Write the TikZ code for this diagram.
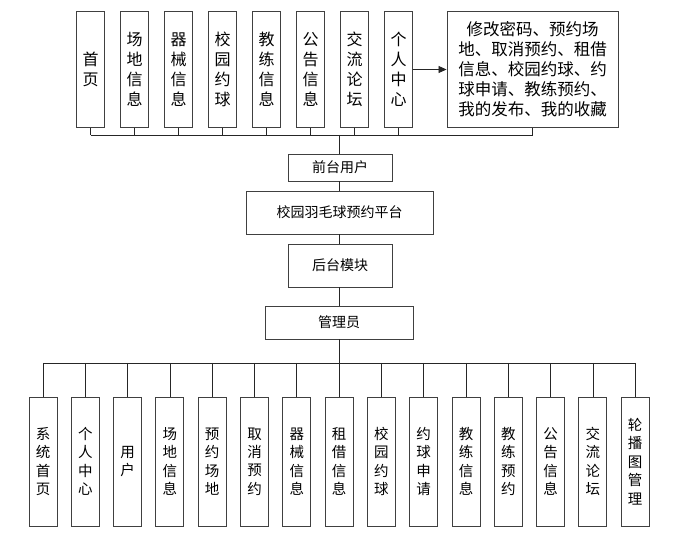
\documentclass[tikz,border=0pt]{standalone}
\usepackage{fontspec}
\setmainfont{Noto Sans CJK SC}
\usetikzlibrary{arrows.meta}

\tikzset{
  box/.style={draw=black!75, fill=white, line width=0.9pt, inner sep=0pt, align=center},
  topbox/.style={box, minimum width=28pt, minimum height=116pt, font=\fontsize{16}{20}\selectfont},
  menubox/.style={box, minimum width=171pt, minimum height=116pt, font=\fontsize{16.5}{20}\selectfont},
  midbox/.style={box, minimum width=104pt, font=\fontsize{14}{17}\selectfont},
  botbox/.style={box, minimum width=28pt, minimum height=129pt, font=\fontsize{14.5}{18.4}\selectfont},
  wire/.style={draw=black!85, line width=0.8pt}
}

\begin{document}
\begin{tikzpicture}[x=1pt,y=-1pt]
 \path[use as bounding box] (0,0) rectangle (688,534);

% front end modules
\foreach \txt [count=\i] in {{首\\页}, {场\\地\\信\\息}, {器\\械\\信\\息}, {校\\园\\约\\球},
    {教\\练\\信\\息}, {公\\告\\信\\息}, {交\\流\\论\\坛}, {个\\人\\中\\心}}
	\node[topbox] (top\i) at (46.5+44*\i, 69.5) {\txt};

\node[menubox] (menu) at (532.5, 69.5) {修改密码、预约场\\地、取消预约、租借\\信息、校园约球、约\\球申请、教练预约、\\我的发布、我的收藏};

% middle column
\node[midbox, minimum height=27pt] (front) at (340, 167.5) {前台用户};
\node[midbox, minimum width=187pt, minimum height=43pt] (platform) at (339.5, 212.5) {校园羽毛球预约平台};
\node[midbox, minimum height=43pt] (back) at (340, 265.5) {后台模块};
\node[midbox, minimum width=148pt, minimum height=33pt] (admin) at (339, 322.5) {管理员};

% back end modules
\foreach \txt [count=\i] in {{系\\统\\首\\页}, {个\\人\\中\\心}, {用\\户}, {场\\地\\信\\息},
    {预\\约\\场\\地}, {取\\消\\预\\约}, {器\\械\\信\\息}, {租\\借\\信\\息}, {校\\园\\约\\球},
    {约\\球\\申\\请}, {教\\练\\信\\息}, {教\\练\\预\\约}, {公\\告\\信\\息}, {交\\流\\论\\坛},
    {轮\\播\\图\\管\\理}}
	\node[botbox] (bot\i) at (0.7+42.3*\i, 461.5) {\txt};

\coordinate (topbus) at (339, 135);
\coordinate (botbus) at (339, 363);

% upper tree
\foreach \i in {1,...,8}
	\draw[wire] (top\i.south) -- (top\i.south |- topbus);
\draw[wire] (menu.south) -- (menu.south |- topbus);
\draw[wire] (top1.south |- topbus) -- (menu.south |- topbus);
\draw[wire] (topbus) -- (front.north -| topbus);
\draw[wire, -{Triangle[length=8pt,width=7pt]}] (top8.east) -- (menu.west);

\draw[wire] (front.south -| topbus) -- (platform.north -| topbus);
\draw[wire] (platform.south -| topbus) -- (back.north -| topbus);
\draw[wire] (back.south -| topbus) -- (admin.north -| topbus);
\draw[wire] (admin.south -| botbus) -- (botbus);

% lower tree
\draw[wire] (bot1.north |- botbus) -- (bot15.north |- botbus);
\foreach \i in {1,...,15}
	\draw[wire] (bot\i.north |- botbus) -- (bot\i.north);

\end{tikzpicture}
\end{document}
